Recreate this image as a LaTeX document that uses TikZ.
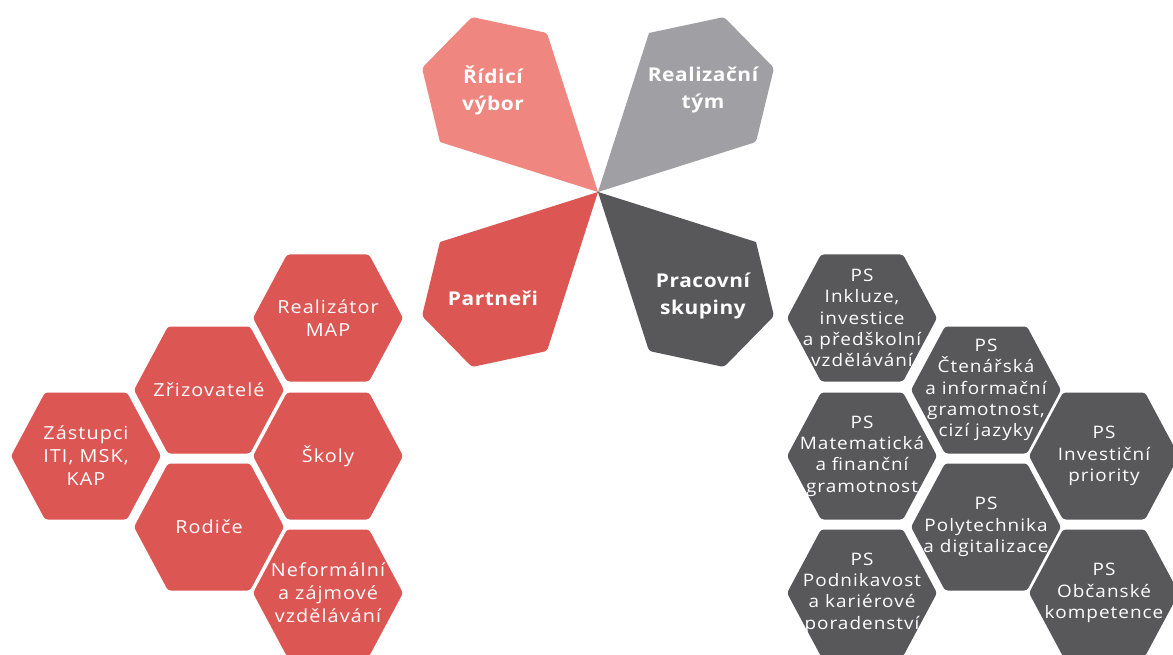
\documentclass[tikz,border=0pt]{standalone}
\usepackage{fontspec}
\setmainfont{Open Sans}
\newfontfamily\hexfont{Open Sans}[FakeStretch=1.1, LetterSpace=6]
\newfontfamily\petalfont{Open Sans}[FakeStretch=1.1, LetterSpace=3]
\definecolor{petalpink}{RGB}{239,134,128}
\definecolor{petalgray}{RGB}{160,160,164}
\definecolor{mapred}{RGB}{220,86,83}
\definecolor{mapdark}{RGB}{88,88,90}
\tikzset{
  petaltext/.style={text=white, font=\petalfont\fontsize{19}{27}\selectfont\bfseries, align=center, inner sep=0pt},
  hextextL/.style={text=white, font=\hexfont\fontsize{18}{23}\selectfont, align=center, inner sep=0pt},
  hextextR/.style={text=white, font=\hexfont\fontsize{17.2}{21.3}\selectfont, align=center, inner sep=0pt},
}
\newcommand\hexcell[6]{%
  \coordinate (#1) at (#2,#3);
  \fill[#4, rounded corners=3pt] (#1) ++(-75,0) -- ++(34,-63.5) -- ++(82,0) -- ++(34,63.5) -- ++(-34,63.5) -- ++(-82,0) -- cycle;
  \node[#5] (#1-t) at (#1) {#6};
}
\begin{document}
\begin{tikzpicture}[x=1pt, y=-1pt]
\useasboundingbox (0,0) rectangle (1173,655);
\fill[white] (0,0) rectangle (1173,655);
\coordinate (C) at (598,192);
% petals
\fill[petalpink] (C) -- (440,142) [rounded corners=3pt] -- (422,68) -- (472,17) -- (547,33) [sharp corners] -- (C) -- cycle;
\fill[petalgray] (C) -- (649,33) [rounded corners=3pt] -- (724,17) -- (774,68) -- (756,142) [sharp corners] -- (C) -- cycle;
\fill[mapred] (C) -- (440,242) [rounded corners=3pt] -- (422,316) -- (472,367) -- (547,351) [sharp corners] -- (C) -- cycle;
\fill[mapdark] (C) -- (756,242) [rounded corners=3pt] -- (774,316) -- (724,367) -- (649,351) [sharp corners] -- (C) -- cycle;
\node[petaltext] (ridici) at (493,90) {Řídicí\\výbor};
\node[petaltext] (realiz) at (703,90) {Realizační\\tým};
\node[petaltext] (partneri) at (493,298) {Partneři};
\node[petaltext] (pracovni) at (703,296) {Pracovní\\skupiny};
% left hexagons
\hexcell{realmap}{328}{318}{mapred}{hextextL}{Realizátor\\MAP}
\hexcell{zriz}{209}{390}{mapred}{hextextL}{Zřizovatelé}
\hexcell{zast}{86}{456}{mapred}{hextextL}{Zástupci\\ITI, MSK,\\KAP}
\hexcell{skoly}{328}{456}{mapred}{hextextL}{Školy}
\hexcell{rodice}{209}{527}{mapred}{hextextL}{Rodiče}
\hexcell{neform}{328}{593}{mapred}{hextextL}{Neformální\\a zájmové\\vzdělávání}
% right hexagons
\hexcell{inkl}{862}{318}{mapdark}{hextextR}{PS\\Inkluze,\\investice\\a předškolní\\vzdělávání}
\hexcell{cten}{986}{390}{mapdark}{hextextR}{PS\\Čtenářská\\a informační\\gramotnost,\\cizí jazyky}
\hexcell{mate}{862}{456}{mapdark}{hextextR}{PS\\Matematická\\a finanční\\gramotnost}
\hexcell{inves}{1104}{456}{mapdark}{hextextR}{PS\\Investiční\\priority}
\hexcell{poly}{986}{527}{mapdark}{hextextR}{PS\\Polytechnika\\a digitalizace}
\hexcell{podn}{862}{593}{mapdark}{hextextR}{PS\\Podnikavost\\a kariérové\\poradenství}
\hexcell{obc}{1104}{593}{mapdark}{hextextR}{PS\\Občanské\\kompetence}
\end{tikzpicture}
\end{document}
